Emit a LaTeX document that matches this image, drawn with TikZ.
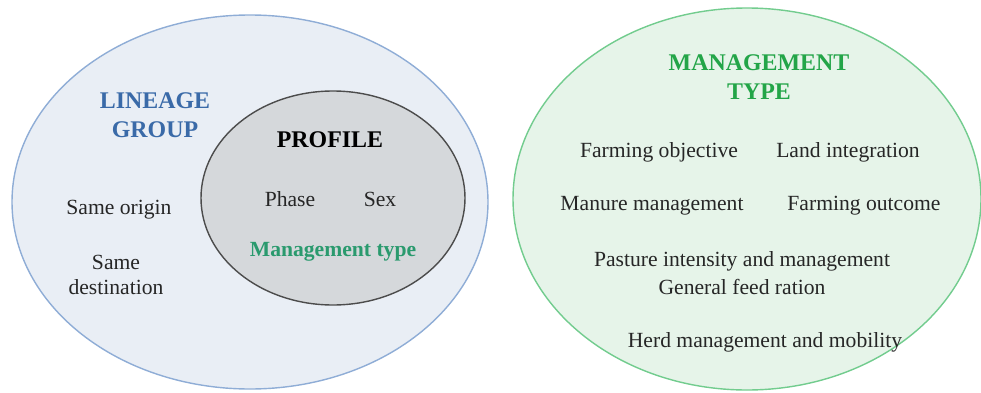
\documentclass[tikz,border=0pt]{standalone}
\usepackage{fontspec}
\setmainfont{Liberation Serif}
\usetikzlibrary{positioning}
\definecolor{lineageblue}{HTML}{3A6AA8}
\definecolor{lineagefill}{HTML}{E9EEF5}
\definecolor{lineageline}{HTML}{8FADD6}
\definecolor{profilefill}{HTML}{D5D8DB}
\definecolor{mgmtgreen}{HTML}{23A548}
\definecolor{mgmtfill}{HTML}{E6F4E9}
\definecolor{mgmtline}{HTML}{72CC8E}
\definecolor{typeteal}{HTML}{2A9A6E}
\begin{document}
\begin{tikzpicture}[
                            node distance=1.8cm,
                            >=latex,
                            item/.style={font=\fontsize{12.3}{14.6}\selectfont, align=center, text=black!85},
                            title/.style={font=\fontsize{13.6}{16.5}\selectfont\bfseries, align=center}
                        ]
                        \useasboundingbox (0,0) rectangle (19.62,7.84);
                        % Sets
                        \draw [lineageline, fill=lineagefill, thick] (5.0,3.8) ellipse (4.76 and 3.74);
                        \draw [black!70, fill=profilefill, thick] (6.66,3.88) ellipse (2.64 and 2.14);
                        \draw [mgmtline, fill=mgmtfill, thick] (14.94,3.86) ellipse (4.68 and 3.82);

                        % Lineage group
                        \node [title, text=lineageblue] (LG) at (3.1,5.54) {LINEAGE\\GROUP};
                        \node [item] (origin) at (2.38,3.64) {Same origin};
                        \node [item] (dest) at (2.32,2.34) {Same\\destination};

                        % Profile
                        \node [title] (PR) at (6.6,5.04) {PROFILE};
                        \node [item] (phase) at (5.8,3.86) {Phase};
                        \node [item, right of=phase] (sex) {Sex};
                        \node [item, font=\fontsize{12.3}{14.6}\selectfont\bfseries, text=typeteal] (PT) at (6.66,2.8) {Management type};

                        % Management type
                        \node [title, text=mgmtgreen] (MT) at (15.18,6.3) {MANAGEMENT\\TYPE};
                        \node [item] (objective) at (13.18,4.8) {Farming objective};
                        \node [item] (land) at (16.96,4.8) {Land integration};
                        \node [item] (manure) at (13.04,3.72) {Manure management};
                        \node [item] (outcome) at (17.28,3.72) {Farming outcome};
                        \node [item, font=\fontsize{12.3}{15.6}\selectfont] (pasture) at (14.84,2.38) {Pasture intensity and management\\General feed ration};
                        \node [item] (herd) at (15.3,1.0) {Herd management and mobility};
                    \end{tikzpicture}
\end{document}
